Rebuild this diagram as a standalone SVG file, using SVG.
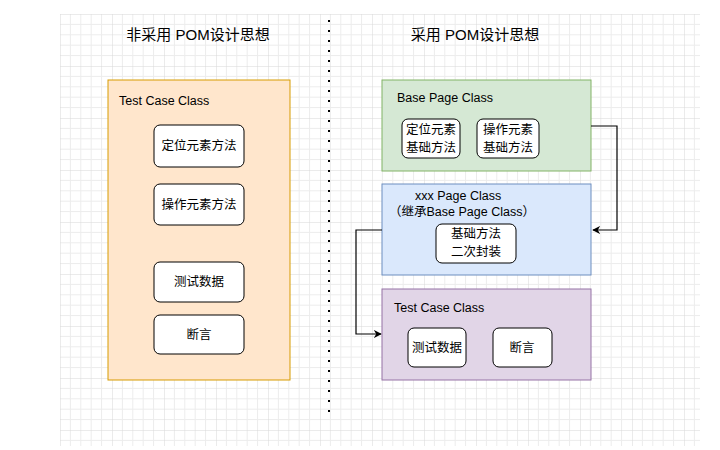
<svg xmlns="http://www.w3.org/2000/svg" width="720" height="450" viewBox="0 0 720 450">
<defs>
<pattern id="g" x="60" y="14" width="52" height="52" patternUnits="userSpaceOnUse">
<path d="M10.4 0V52M20.8 0V52M31.2 0V52M41.6 0V52M0 10.4H52M0 20.8H52M0 31.2H52M0 41.6H52" stroke="#ececec" stroke-width="1" fill="none"/>
<path d="M0 0V52M0 0H52" stroke="#d8d8d8" stroke-width="1" fill="none"/>
</pattern>
<marker id="a" viewBox="0 0 10 10" refX="9" refY="5" markerWidth="8" markerHeight="8" orient="auto" markerUnits="userSpaceOnUse"><path d="M0 0L10 5L0 10L3 5z" fill="#000"/></marker>
</defs>
<style>
text{font-family:"Liberation Sans","Noto Sans CJK SC",sans-serif;font-size:12.5px;fill:#000}
.t{font-size:15px}
.i{fill:#fff;stroke:#000;stroke-width:1}
.m{text-anchor:middle}
</style>
<rect width="720" height="450" fill="#fff"/>
<rect x="60" y="14" width="640" height="432" fill="url(#g)"/>
<line x1="329" y1="20" x2="329" y2="420" stroke="#000" stroke-width="2" stroke-dasharray="2,8"/>
<text class="t m" x="198" y="40">非采用 POM设计思想</text>
<text class="t m" x="475" y="40">采用 POM设计思想</text>
<g id="left">
<rect x="108" y="80" width="182" height="300" fill="#ffe6cc" stroke="#d79b00"/>
<text x="119" y="105">Test Case Class</text>
<rect class="i" x="154" y="125" width="90" height="42" rx="6"/><text class="m" x="199" y="150">定位元素方法</text>
<rect class="i" x="154" y="184" width="90" height="41" rx="6"/><text class="m" x="199" y="209">操作元素方法</text>
<rect class="i" x="154" y="262" width="90" height="40" rx="6"/><text class="m" x="199" y="286">测试数据</text>
<rect class="i" x="154" y="315" width="90" height="39" rx="6"/><text class="m" x="199" y="339">断言</text>
</g>
<g id="base">
<rect x="382" y="80" width="209" height="91" fill="#d5e8d4" stroke="#82b366"/>
<text x="397" y="102">Base Page Class</text>
<rect class="i" x="402" y="119" width="58" height="39" rx="6"/><text class="m" x="431" y="134">定位元素</text><text class="m" x="431" y="152">基础方法</text>
<rect class="i" x="477" y="119" width="62" height="39" rx="6"/><text class="m" x="508" y="134">操作元素</text><text class="m" x="508" y="152">基础方法</text>
</g>
<g id="xxx">
<rect x="382" y="184" width="209" height="91" fill="#dae8fc" stroke="#6c8ebf"/>
<text x="415" y="200">xxx Page Class</text>
<text x="389" y="216">（继承Base Page Class）</text>
<rect class="i" x="436" y="224" width="80" height="39" rx="6"/><text class="m" x="476" y="238">基础方法</text><text class="m" x="476" y="256">二次封装</text>
</g>
<g id="test">
<rect x="382" y="289" width="209" height="91" fill="#e1d5e7" stroke="#9673a6"/>
<text x="394" y="312">Test Case Class</text>
<rect class="i" x="408" y="328" width="58" height="39" rx="6"/><text class="m" x="437" y="352">测试数据</text>
<rect class="i" x="493" y="328" width="59" height="39" rx="6"/><text class="m" x="522" y="352">断言</text>
</g>
<g id="connectors" fill="none" stroke="#000" stroke-width="1.2">
<path d="M591 126H617V230H593" marker-end="url(#a)"/>
<path d="M382 230H356V334H381" marker-end="url(#a)"/>
</g>
</svg>
